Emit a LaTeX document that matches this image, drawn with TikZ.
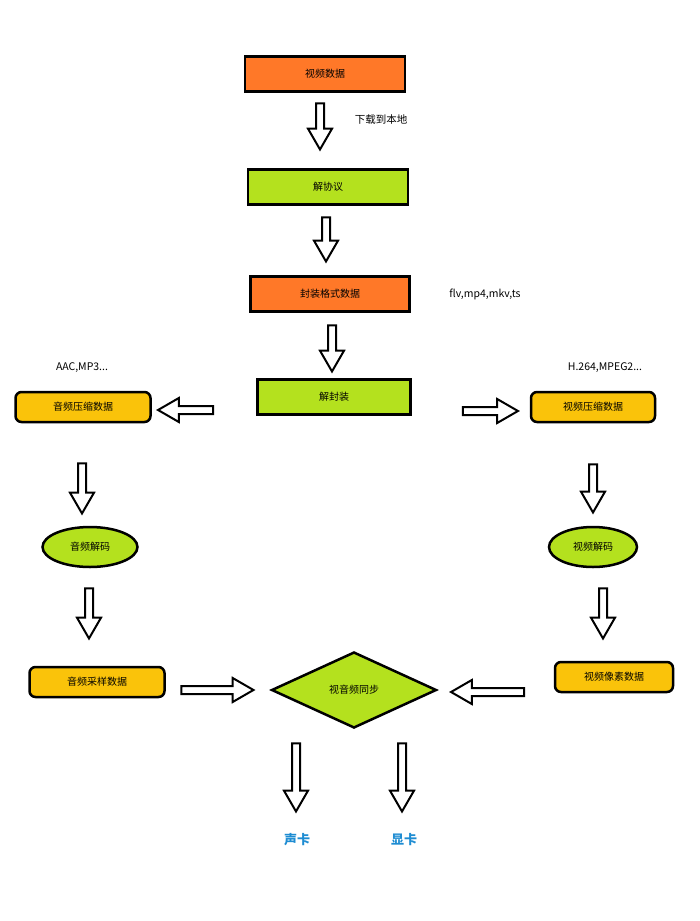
\documentclass[tikz,border=0pt]{standalone}
\usepackage{fontspec}
\setmainfont{Noto Sans CJK SC}
\usetikzlibrary{shapes.geometric,shapes.arrows}
\definecolor{og}{RGB}{255,120,40}
\definecolor{gr}{RGB}{180,225,30}
\definecolor{yl}{RGB}{250,195,10}
\definecolor{bl}{RGB}{30,140,210}
\begin{document}
\begin{tikzpicture}[x=1pt,y=-1pt,
  box/.style={draw,line width=2.5pt,minimum width=#1,minimum height=35pt,inner sep=0pt,font=\fontsize{10}{10}\selectfont},
  rbox/.style={draw,line width=2.5pt,rounded corners=6pt,fill=yl,minimum width=#1,minimum height=30pt,inner sep=0pt,font=\fontsize{10}{10}\selectfont},
  ell/.style={draw,ellipse,line width=2.5pt,fill=gr,minimum width=#1,minimum height=40pt,inner sep=0pt,font=\fontsize{10}{10}\selectfont},
  ba/.style={draw,single arrow,line width=2pt,fill=white,minimum height=#1,minimum width=24pt,single arrow head extend=6pt,single arrow tip angle=60,inner sep=2pt},
  lbl/.style={font=\fontsize{10.5}{10.5}\selectfont}]
\useasboundingbox (0,0) rectangle (700,921);
\node[box=160pt,fill=og] (a) at (325,74) {视频数据};
\node[box=160pt,fill=gr] (b) at (328,187) {解协议};
\node[box=159pt,fill=og] (c) at (330,294) {封装格式数据};
\node[box=153pt,fill=gr] (d) at (334,397) {解封装};
\node[rbox=135pt] (e) at (83,407) {音频压缩数据};
\node[rbox=124pt] (f) at (593,407) {视频压缩数据};
\node[ell=95pt] (g) at (90,547) {音频解码};
\node[ell=88pt] (h) at (593,547) {视频解码};
\node[rbox=135pt] (i) at (97,682) {音频采样数据};
\node[rbox=118pt] (j) at (614,677) {视频像素数据};
\node[draw,diamond,aspect=2.2,line width=2.5pt,fill=gr,minimum width=165pt,minimum height=76pt,inner sep=0pt,font=\fontsize{10}{10}\selectfont] (k) at (354,690) {视音频同步};
\node[font=\bfseries\fontsize{13}{13}\selectfont,text=bl] (s) at (297,840) {声卡};
\node[font=\bfseries\fontsize{13}{13}\selectfont,text=bl] (x) at (404,840) {显卡};
\node[lbl] (l1) at (381,120) {下载到本地};
\node[lbl] (l2) at (485,294) {flv,mp4,mkv,ts};
\node[lbl] (l3) at (82,368) {AAC,MP3...};
\node[lbl] (l4) at (605,368) {H.264,MPEG2...};
% block arrows
\node[ba=46pt,rotate=-90] (a1) at (320,123) {};
\node[ba=44pt,rotate=-90] (a2) at (326,236) {};
\node[ba=46pt,rotate=-90] (a3) at (332,345) {};
\node[ba=55pt,rotate=180] (a4) at (189,410) {};
\node[ba=55pt] (a5) at (487,411) {};
\node[ba=50pt,rotate=-90] (a6) at (82,485) {};
\node[ba=48pt,rotate=-90] (a7) at (593,485) {};
\node[ba=50pt,rotate=-90] (a8) at (89,610) {};
\node[ba=50pt,rotate=-90] (a9) at (603,610) {};
\node[ba=72pt] (a10) at (214,690) {};
\node[ba=73pt,rotate=180] (a11) at (491,692) {};
\node[ba=68pt,rotate=-90] (a12) at (296,774) {};
\node[ba=68pt,rotate=-90] (a13) at (402,774) {};
\end{tikzpicture}
\end{document}
